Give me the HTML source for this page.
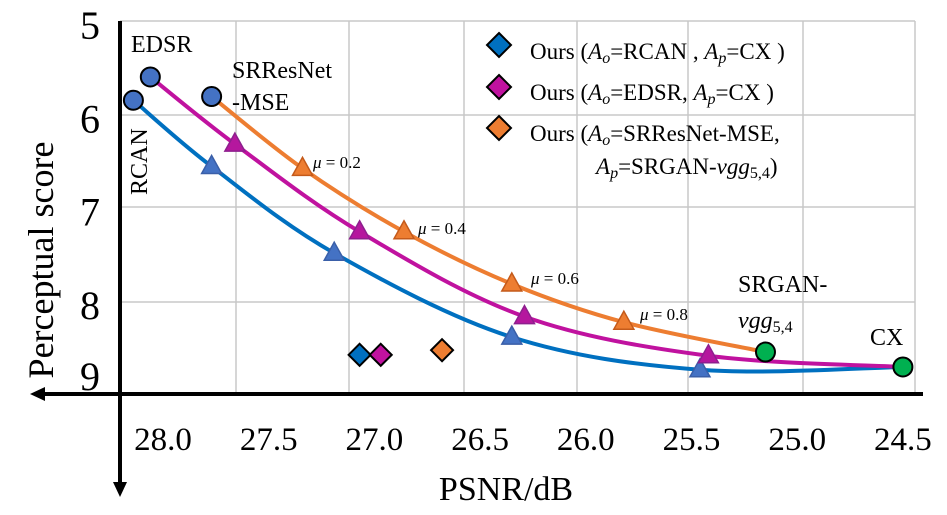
<!DOCTYPE html>
<html><head><meta charset="utf-8"><style>
body{margin:0;background:#fff;}
svg{display:block;font-family:"Liberation Serif","DejaVu Serif",serif;}
svg text{font-family:"Liberation Serif","DejaVu Serif",serif;}
</style></head><body>
<svg id="chart" width="947" height="515" viewBox="0 0 947 515" xmlns="http://www.w3.org/2000/svg" font-family="Liberation Serif, DejaVu Serif, serif">
<g id="grid" stroke="#c8c8c8" stroke-width="1.5" fill="none">
<line x1="120" y1="21" x2="915" y2="21"/><line x1="120" y1="115" x2="915" y2="115"/><line x1="120" y1="207" x2="915" y2="207"/><line x1="120" y1="302" x2="915" y2="302"/>
<line x1="236" y1="21" x2="236" y2="394"/><line x1="349" y1="21" x2="349" y2="394"/><line x1="464" y1="21" x2="464" y2="394"/><line x1="577" y1="21" x2="577" y2="394"/><line x1="688" y1="21" x2="688" y2="394"/><line x1="803" y1="21" x2="803" y2="394"/><line x1="915" y1="21" x2="915" y2="394"/>
</g>
<g>
<line x1="40" y1="394" x2="923" y2="394" stroke="#000" stroke-width="4"/>
<polygon points="30,394 45,387 45,401" fill="#000"/>
<line x1="120" y1="21" x2="120" y2="485" stroke="#000" stroke-width="4"/>
<polygon points="120,497 113,482 127,482" fill="#000"/>
</g>
<g id="yticks" font-size="40" text-anchor="middle"></g>
<g id="xticks" font-size="33" text-anchor="middle"></g>
<text x="506" y="500" font-size="34" text-anchor="middle">PSNR/dB</text>
<text x="0" y="0" font-size="36" text-anchor="middle" transform="translate(53,260) rotate(-90)">Perceptual score</text>
<g id="series"></g>
<g font-size="24">
<text x="131" y="52">EDSR</text>
<text x="232" y="78">SRResNet</text>
<text x="232" y="110">-MSE</text>
<text transform="translate(147,195) rotate(-90)">RCAN</text>
<text x="738" y="292">SRGAN-</text>
<text x="738" y="328" font-style="italic">vgg<tspan font-size="16" font-style="normal" dy="4">5,4</tspan></text>
<text x="870" y="345">CX</text>
<g font-size="17"><text x="313" y="168"><tspan font-style="italic">μ</tspan> = 0.2</text>
<text x="418" y="234"><tspan font-style="italic">μ</tspan> = 0.4</text>
<text x="531" y="284"><tspan font-style="italic">μ</tspan> = 0.6</text>
<text x="640" y="320"><tspan font-style="italic">μ</tspan> = 0.8</text></g>
</g>
<g font-size="23">
<g><polygon points="499,33 511,45 499,57 487,45" fill="#0070c0" stroke="#000" stroke-width="2"/><text x="530" y="59">Ours (<tspan font-style="italic">A<tspan font-size="16" dy="4">o</tspan></tspan><tspan dy="-4">=RCAN , </tspan><tspan font-style="italic">A<tspan font-size="16" dy="4">p</tspan></tspan><tspan dy="-4">=CX )</tspan></text></g>
<g><polygon points="499,75 511,87 499,99 487,87" fill="#c0129f" stroke="#000" stroke-width="2"/><text x="530" y="100">Ours (<tspan font-style="italic">A<tspan font-size="16" dy="4">o</tspan></tspan><tspan dy="-4">=EDSR, </tspan><tspan font-style="italic">A<tspan font-size="16" dy="4">p</tspan></tspan><tspan dy="-4">=CX )</tspan></text></g>
<g><polygon points="499,116 511,128 499,140 487,128" fill="#ed7d31" stroke="#000" stroke-width="2"/><text x="530" y="141">Ours (<tspan font-style="italic">A<tspan font-size="16" dy="4">o</tspan></tspan><tspan dy="-4">=SRResNet-MSE,</tspan></text>
<text x="596" y="174"><tspan font-style="italic">A<tspan font-size="16" dy="4">p</tspan></tspan><tspan dy="-4">=SRGAN-</tspan><tspan font-style="italic">vgg</tspan><tspan font-size="16" dy="4">5,4</tspan><tspan dy="-4">)</tspan></text></g>
</g>
</svg>
<script>
const yTickValues=[5,6,7,8,9];
const xTickLabels=["28.0","27.5","27.0","26.5","26.0","25.5","25.0","24.5"];
const xTickPsnr=[28.0,27.5,27.0,26.5,26.0,25.5,25.0,24.5];
const bluePsnr=[28.14,27.77,27.19,26.35,25.46,24.50];
const blueScore=[5.85,6.56,7.49,8.39,8.74,8.71];
const magentaPsnr=[28.06,27.66,27.07,26.29,25.42,24.50];
const magentaScore=[5.60,6.32,7.26,8.17,8.59,8.71];
const orangePsnr=[27.77,27.34,26.86,26.35,25.82,25.15];
const orangeScore=[5.81,6.58,7.26,7.82,8.23,8.55];
const oursPsnr=[27.07,26.97,26.68];
const oursScore=[8.58,8.58,8.53];
const NS="http://www.w3.org/2000/svg";
function xs(p){return 163+(28-p)*211.4;}
function ys(s){return 21+(s-5)*93.25;}
function mk(tag,attrs,parent){const e=document.createElementNS(NS,tag);for(const k in attrs)e.setAttribute(k,attrs[k]);parent.appendChild(e);return e;}
const yt=document.getElementById('yticks');
yTickValues.forEach(v=>{const t=mk('text',{x:90,y:Math.min(ys(v)+18,390)},yt);t.textContent=v;

});
const xt=document.getElementById('xticks');
xTickLabels.forEach((l,i)=>{const t=mk('text',{x:xs(xTickPsnr[i]),y:450},xt);t.textContent=l;

});
function smooth(pts){let d=`M${pts[0][0]},${pts[0][1]}`;for(let i=0;i<pts.length-1;i++){const p0=pts[i-1]||pts[i],p1=pts[i],p2=pts[i+1],p3=pts[i+2]||p2;
d+=` C${p1[0]+(p2[0]-p0[0])/6},${p1[1]+(p2[1]-p0[1])/6} ${p2[0]-(p3[0]-p1[0])/6},${p2[1]-(p3[1]-p1[1])/6} ${p2[0]},${p2[1]}`;}return d;}
const sg=document.getElementById('series');
function tri(x,y,fill,stroke,parent){return mk('polygon',{points:`${x},${y-11} ${x+10},${y+7} ${x-10},${y+7}`,fill:fill,stroke:stroke,'stroke-width':1.5},parent);}
function series(px,sc,color,name){
 const pts=px.map((p,i)=>[xs(p),ys(sc[i])]);
 const path=mk('path',{d:smooth(pts),fill:'none',stroke:color,'stroke-width':4},sg);
 
 
 return pts;}
const bp=series(bluePsnr,blueScore,'#0070c0','blue-series');
const mp=series(magentaPsnr,magentaScore,'#c0129f','magenta-series');
const op=series(orangePsnr,orangeScore,'#ed7d31','orange-series');
[[bp,'#4472c4','#3a5fa8','blue-marker'],[mp,'#b5179e','#8e1f8e','magenta-marker'],[op,'#ed7d31','#c45a1a','orange-marker']].forEach(([pts,f,s,n])=>{
 pts.slice(1,pts.length-1).forEach(p=>{const t=tri(p[0],p[1],f,s,sg);
 
 });});
[[bp[0],'#4472c4'],[mp[0],'#4472c4'],[op[0],'#4472c4'],[op[op.length-1],'#00b050'],[bp[bp.length-1],'#00b050']].forEach(([p,f])=>{
 const c=mk('circle',{cx:p[0],cy:p[1],r:9.5,fill:f,stroke:'#000','stroke-width':2},sg);
 
 });
const oc=['#0070c0','#c0129f','#ed7d31'];
oursPsnr.forEach((p,i)=>{const x=xs(p),y=ys(oursScore[i]);
 const d=mk('polygon',{points:`${x},${y-11} ${x+11},${y} ${x},${y+11} ${x-11},${y}`,fill:oc[i],stroke:'#000','stroke-width':2},sg);
 
 });
</script>
</body></html>
